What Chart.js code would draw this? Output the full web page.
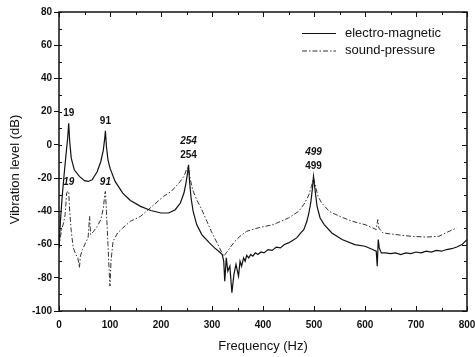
<!DOCTYPE html>
<html>
<head>
<meta charset="utf-8">
<script src="https://cdn.jsdelivr.net/npm/chart.js@4/dist/chart.umd.min.js"></script>
<style>
  body { margin: 0; background: #fff; }
  canvas { display: block; }
</style>
</head>
<body>
<canvas id="chart" width="475" height="357"></canvas>
<script>
// electro-magnetic curve
const emFreq = [0, 3, 6, 10, 14, 17, 19, 21, 24, 30, 40, 50, 57, 65, 75, 82, 87, 90, 91, 93, 96, 100,
  110, 125, 140, 160, 180, 200, 215, 228, 238, 245, 249, 252, 254, 256, 259, 263, 270, 280, 295, 305,
  315, 320, 323, 325, 328, 331, 335, 339, 343, 347, 352, 355, 358, 362, 365, 368, 372, 376, 380, 385,
  390, 396, 402, 410, 418, 426, 434, 442, 450, 458, 466, 474, 480, 486, 490, 494, 497, 499, 502, 506,
  512, 520, 535, 555, 580, 600, 615, 622, 624, 626, 628, 632, 640, 650, 660, 670, 680, 690, 700, 710,
  720, 730, 740, 750, 760, 770, 780, 790, 800];
const emLevel = [-62, -45, -32, -18, -5, 4, 13, 2, -8, -15, -19, -21.5, -22, -21, -16, -10, -3, 5, 8.5, -1, -9, -14,
  -22, -29, -33.5, -37, -39.5, -41, -41, -39, -35, -29, -23, -17, -12, -22, -32, -40, -48, -54, -59, -62,
  -64.5, -66, -70, -82, -68, -76, -73, -89, -78, -72, -79, -70, -73, -68, -70, -66.5, -68, -66, -67, -65,
  -66, -64.5, -65, -63, -63.5, -61.5, -62, -60, -59, -57.5, -56, -53, -51, -46, -41, -34, -26, -19, -27, -37,
  -44, -48, -53, -57, -60, -61, -63, -64, -73, -57, -62, -65, -65, -65.5, -65, -66, -65, -65.5, -64.5, -65,
  -64, -64.5, -63.5, -64, -63, -62.5, -61.5, -60, -57];

// sound-pressure curve
const spFreq = [0, 3, 6, 9, 12, 15, 17, 19, 21, 24, 28, 33, 37, 40, 42, 46, 52, 57, 60, 62, 68, 75, 82, 87,
  90, 91, 93, 96, 99, 100, 102, 106, 115, 125, 140, 160, 175, 190, 205, 220, 235, 245, 251, 254, 257, 262,
  270, 280, 290, 300, 310, 318, 323, 328, 335, 345, 355, 368, 390, 420, 450, 470, 482, 490, 495, 499, 503,
  508, 515, 530, 550, 575, 600, 615, 622, 625, 627, 635, 660, 690, 720, 745, 765, 780];
const spLevel = [-62, -55, -50, -47, -42, -29, -28, -28, -40, -52, -62, -66, -68, -74, -67, -63, -59, -56, -43, -54,
  -52, -49, -45, -38, -29, -28, -40, -60, -80, -85, -70, -58, -53, -50, -46, -43, -39, -35, -31, -28, -23, -19,
  -14, -14, -20, -27, -33, -39, -46, -53, -59, -64, -67, -65, -62, -58, -55, -52, -50, -48, -44, -40, -35, -30,
  -25, -20, -25, -31, -35, -40, -43, -46, -48, -50, -51, -45, -50, -53, -54, -55, -55.5, -55, -52, -50];

const peakFreqs = [19, 91, 254, 499];

const xTicks = [0, 100, 200, 300, 400, 500, 600, 700, 800];
const yTicks = [-100, -80, -60, -40, -20, 0, 20, 40, 60, 80];

const font = "'Liberation Sans', Arial, sans-serif";
const ink = '#111';

function toPoints(xs, ys) {
  return xs.map((x, i) => ({ x: x, y: ys[i] }));
}

// box round the plot, with small inward ticks like the original
const framePlugin = {
  id: 'frame',
  afterDraw(chart) {
    const c = chart.ctx;
    const a = chart.chartArea;
    const xs = chart.scales.x, ys = chart.scales.y;
    c.save();
    c.strokeStyle = ink;
    c.lineWidth = 1.5;
    c.strokeRect(a.left, a.top, a.right - a.left, a.bottom - a.top);
    c.lineWidth = 1;
    c.beginPath();
    for (let v = 0; v <= 800; v += 50) {
      const px = Math.round(xs.getPixelForValue(v)) + 0.5;
      const len = v % 100 === 0 ? 5 : 3;
      c.moveTo(px, a.bottom); c.lineTo(px, a.bottom - len);
      c.moveTo(px, a.top); c.lineTo(px, a.top + len);
    }
    for (let v = -100; v <= 80; v += 10) {
      const py = Math.round(ys.getPixelForValue(v)) + 0.5;
      const len = v % 20 === 0 ? 5 : 3;
      c.moveTo(a.right, py); c.lineTo(a.right - len, py);
      c.moveTo(a.left, py); c.lineTo(a.left + 3, py);
    }
    c.stroke();

    // y axis title, sits a little below the middle in the original
    c.fillStyle = ink;
    c.font = '13px ' + font;
    c.textAlign = 'center';
    c.textBaseline = 'middle';
    c.translate(15, (a.top + a.bottom) / 2 + 8);
    c.rotate(-Math.PI / 2);
    c.fillText('Vibration level (dB)', 0, 0);
    c.restore();
  }
};

// peak frequency labels: upright for electro-magnetic, italic for sound-pressure
const peakPlugin = {
  id: 'peaks',
  afterDatasetsDraw(chart) {
    const c = chart.ctx;
    const xs = chart.scales.x, ys = chart.scales.y;
    c.save();
    c.fillStyle = ink;
    c.textAlign = 'center';
    c.textBaseline = 'middle';
    peakFreqs.forEach(f => {
      const px = xs.getPixelForValue(f);
      const emY = ys.getPixelForValue(emLevel[emFreq.indexOf(f)]) - 10;
      let spY = ys.getPixelForValue(spLevel[spFreq.indexOf(f)]) - 9;
      if (spY < emY + 12) spY = emY - 14;
      c.font = 'bold 10px ' + font;
      c.fillText(String(f), px, emY);
      c.font = 'italic bold 10px ' + font;
      c.fillText(String(f), px, spY);
    });
    c.restore();
  }
};

// legend in the top right corner of the plot
const legendPlugin = {
  id: 'cornerLegend',
  afterDraw(chart) {
    const c = chart.ctx;
    const a = chart.chartArea;
    c.save();
    c.font = '13px ' + font;
    c.textBaseline = 'middle';
    chart.data.datasets.forEach((ds, i) => {
      const y = a.top + 21 + i * 17.5;
      c.strokeStyle = ds.borderColor;
      c.lineWidth = 1;
      c.setLineDash(ds.borderDash || []);
      c.beginPath();
      c.moveTo(a.right - 165, y + 0.5);
      c.lineTo(a.right - 131, y + 0.5);
      c.stroke();
      c.setLineDash([]);
      c.fillStyle = ink;
      c.fillText(ds.label, a.right - 122, y);
    });
    c.restore();
  }
};

new Chart(document.getElementById('chart'), {
  type: 'line',
  data: {
    datasets: [
      {
        label: 'electro-magnetic',
        data: toPoints(emFreq, emLevel),
        borderColor: '#111',
        borderWidth: 1.2,
        pointRadius: 0,
        tension: 0
      },
      {
        label: 'sound-pressure',
        data: toPoints(spFreq, spLevel),
        borderColor: '#333',
        borderWidth: 1,
        borderDash: [5, 2, 1.5, 2],
        pointRadius: 0,
        tension: 0
      }
    ]
  },
  options: {
    responsive: false,
    animation: false,
    layout: { padding: { left: 0, right: 8, top: 12, bottom: 0 } },
    plugins: {
      legend: { display: false },
      tooltip: { enabled: false }
    },
    scales: {
      x: {
        type: 'linear',
        min: 0,
        max: 800,
        afterBuildTicks: s => { s.ticks = xTicks.map(v => ({ value: v })); },
        afterFit: s => { s.height = 46; s.paddingRight = 0; s.paddingLeft = 0; },
        ticks: { padding: 8, color: ink, font: { family: font, size: 10, weight: 'bold' }, maxRotation: 0 },
        grid: { drawOnChartArea: false, drawTicks: false },
        border: { display: false },
        title: {
          display: true,
          text: 'Frequency (Hz)',
          color: ink,
          font: { family: font, size: 13 },
          padding: { top: 0, bottom: 3 }
        }
      },
      y: {
        min: -100,
        max: 80,
        afterBuildTicks: s => { s.ticks = yTicks.map(v => ({ value: v })); },
        afterFit: s => { s.width = 59; },
        ticks: { padding: 2, color: ink, font: { family: font, size: 10, weight: 'bold' } },
        grid: { drawOnChartArea: false, tickLength: 5, color: ink },
        border: { display: false }
      }
    }
  },
  plugins: [framePlugin, peakPlugin, legendPlugin]
});
</script>
</body>
</html>
